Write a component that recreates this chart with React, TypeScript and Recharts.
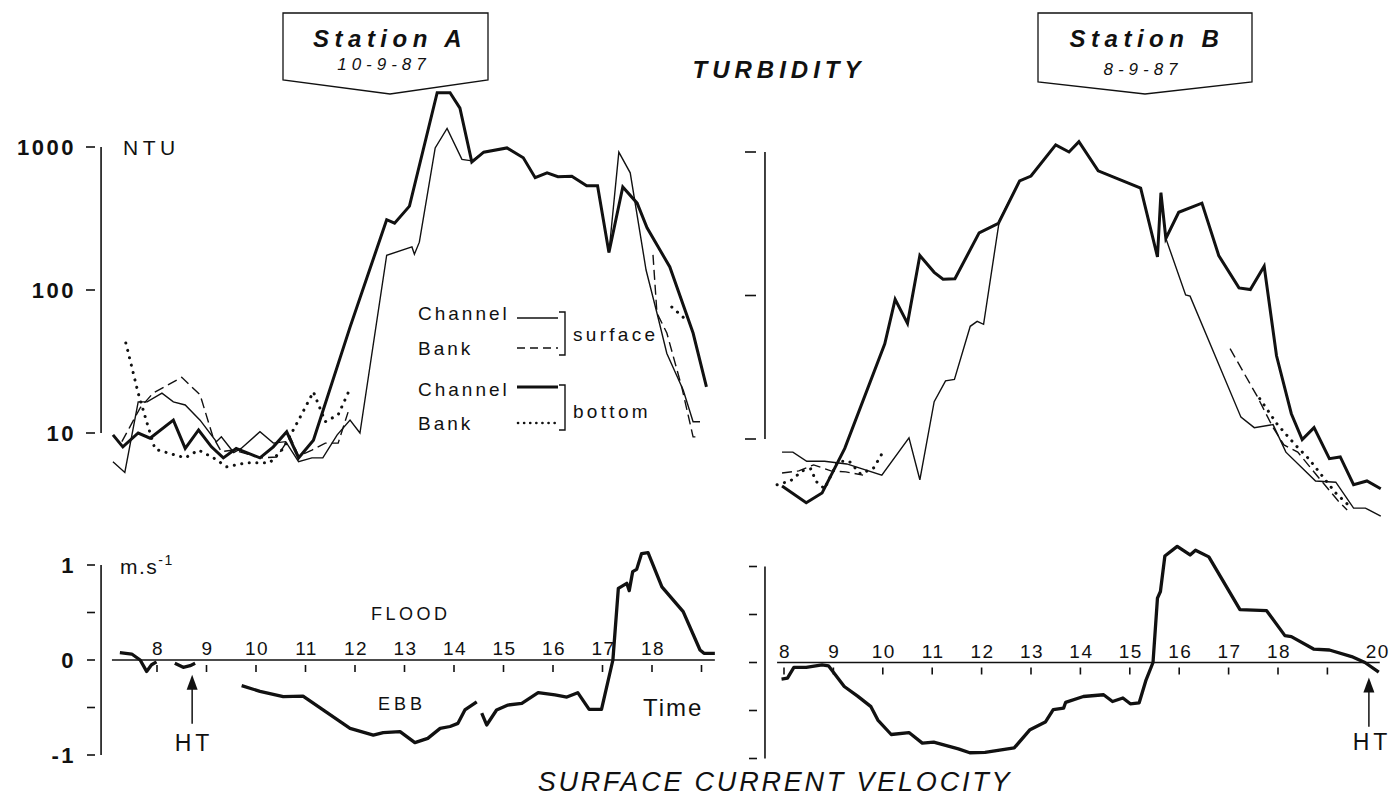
import React from "react";
import { LineChart, Line, XAxis, YAxis, ReferenceLine, ReferenceDot } from "recharts";

const W = 1393;
const H = 801;
const INK = "#111";
const FONT = '"Liberation Sans", Arial, Helvetica, sans-serif';

// ---------------- Station A turbidity (NTU), time in hours ----------------
const A_SURF_CH_T = [7.11, 7.35, 7.62, 7.8, 8.1, 8.33, 8.57, 8.87, 9.2, 9.3, 9.55, 9.7, 10.08, 10.35, 10.6, 10.86, 11.13, 11.35, 11.64, 11.9, 12.1, 12.64, 13.15, 13.2, 13.3, 13.62, 13.86, 14.16, 14.36, 14.6, 15.07, 15.4, 15.64, 15.88, 16.1, 16.38, 16.68, 16.9, 17.13, 17.33, 17.56, 17.88, 18.1, 18.3, 18.63, 18.83, 18.97];
const A_SURF_CH_V = [6.3, 5.3, 16.5, 16.5, 19, 16.5, 15.7, 12.3, 8.7, 9.4, 7.3, 7.8, 10.2, 8.5, 8.7, 6.3, 6.7, 6.7, 9.7, 12.3, 10, 175, 200, 178, 216, 985, 1350, 820, 800, 920, 985, 840, 610, 660, 620, 625, 535, 535, 183, 920, 660, 138, 69, 36, 20, 12, 12];

const A_BOT_CH_T = [7.11, 7.31, 7.62, 7.86, 8.33, 8.57, 8.84, 9.1, 9.34, 9.6, 10.08, 10.35, 10.62, 10.86, 11.16, 11.9, 12.64, 12.8, 13.1, 13.66, 13.92, 14.12, 14.36, 14.6, 15.07, 15.4, 15.64, 15.88, 16.1, 16.38, 16.68, 16.9, 17.13, 17.41, 17.7, 17.9, 18.36, 18.83, 19.1];
const A_BOT_CH_V = [9.7, 8.0, 10.0, 9.2, 12.3, 7.8, 10.5, 8.0, 6.7, 7.8, 6.7, 8.0, 10.2, 6.7, 8.9, 55, 310, 293, 386, 2400, 2400, 1870, 785, 920, 985, 840, 610, 660, 620, 625, 535, 535, 183, 525, 405, 272, 145, 50, 21];

const A_SURF_BK_T = [7.29, 7.45, 7.66, 7.92, 8.5, 8.87, 9.13, 9.3, 9.55, 10.08, 10.42, 10.69, 10.86, 11.13, 11.4, 11.66, 11.86, 11.95, 18.02, 18.1, 18.3, 18.6, 18.83, 18.97];
const A_SURF_BK_V = [8.7, 11, 15, 19, 24.5, 18.5, 9.4, 7.4, 7.6, 6.7, 6.8, 9.4, 6.9, 7.6, 8.5, 8.5, 14, null, 176, 69, 50, 21, 9.4, 9.4];

const A_BOT_BK_T = [7.37, 7.49, 7.62, 7.8, 7.96, 8.57, 8.84, 9.14, 9.41, 9.82, 10.28, 10.55, 10.86, 11.16, 11.4, 11.66, 11.87, 12.0, 18.4, 18.73];
const A_BOT_BK_V = [42.6, 29, 19, 11.7, 7.7, 6.7, 7.6, 6.7, 5.8, 6.2, 6.2, 7.8, 12.3, 19.4, 12, 13.4, 19.4, null, 76, 60];

// ---------------- Station B turbidity (NTU) ----------------
const B_SURF_CH_T = [7.96, 8.18, 8.46, 8.82, 9.27, 9.98, 10.53, 10.75, 11.04, 11.27, 11.45, 11.77, 11.91, 12.04, 12.36, 12.77, 13.0, 13.5, 13.77, 13.97, 14.36, 15.22, 15.56, 15.63, 15.73, 16.13, 16.22, 17.25, 17.52, 17.9, 18.16, 18.76, 19.17, 19.53, 19.77, 20.08];
const B_SURF_CH_V = [8.1, 8.1, 7.0, 7.0, 6.7, 5.6, 10.2, 5.2, 18.2, 25.4, 26, 61, 66, 63, 335, 630, 680, 1120, 1000, 1180, 740, 560, 186, 520, 250, 101, 99, 14.2, 12.0, 12.6, 8.1, 5.1, 5.0, 3.3, 3.3, 2.9];

const B_BOT_CH_T = [7.96, 8.45, 8.77, 9.23, 10.04, 10.25, 10.5, 10.75, 11.04, 11.22, 11.46, 11.95, 12.34, 12.77, 13.0, 13.5, 13.77, 13.97, 14.36, 15.22, 15.56, 15.63, 15.73, 15.99, 16.46, 16.8, 17.21, 17.44, 17.72, 17.97, 18.27, 18.49, 18.73, 19.04, 19.26, 19.53, 19.8, 20.08];
const B_BOT_CH_V = [4.7, 3.6, 4.2, 8.6, 46, 94, 64, 190, 145, 130, 131, 273, 318, 630, 680, 1120, 1000, 1180, 740, 560, 186, 520, 250, 380, 440, 190, 113, 110, 160, 38, 15, 9.9, 12, 7.3, 7.5, 4.8, 5.1, 4.5];

const B_SURF_BK_T = [7.96, 8.3, 8.6, 8.95, 9.25, 9.6, 9.7, 17.03, 17.58, 17.9, 18.12, 18.4, 18.8, 19.22, 19.4];
const B_SURF_BK_V = [5.8, 6.0, 6.6, 6.0, 5.9, 5.6, null, 42.6, 19.8, 12, 9.1, 8.1, 5.5, 3.7, 3.2];

const B_BOT_BK_T = [7.86, 8.13, 8.37, 8.55, 8.64, 8.82, 9.09, 9.32, 9.55, 9.82, 10.0, 10.1, 17.63, 17.99, 18.35, 18.62, 18.9, 19.17, 19.49];
const B_BOT_BK_V = [4.8, 5.1, 6.0, 6.2, 5.1, 4.5, 7.0, 7.0, 5.7, 6.3, 8.1, null, 19.1, 12.6, 9.1, 7.3, 5.5, 4.2, 3.3];

// ---------------- Surface current velocity (m/s) ----------------
const A_VEL_T = [7.25, 7.49, 7.66, 7.79, 7.89, 7.99, 8.15, 8.36, 8.53, 8.67, 8.77, 9.2, 9.71, 10.08, 10.55, 10.95, 11.9, 12.37, 12.57, 12.91, 13.21, 13.47, 13.72, 13.92, 14.08, 14.22, 14.46, 14.51, 14.56, 14.66, 14.86, 15.09, 15.37, 15.7, 16.04, 16.28, 16.5, 16.73, 16.98, 17.21, 17.32, 17.49, 17.54, 17.61, 17.69, 17.79, 17.92, 18.2, 18.63, 18.97, 19.05, 19.27];
const A_VEL_V = [0.077, 0.063, 0, -0.12, -0.05, -0.02, null, -0.035, -0.077, -0.06, -0.035, null, -0.27, -0.33, -0.386, -0.38, -0.72, -0.79, -0.765, -0.754, -0.87, -0.825, -0.72, -0.7, -0.667, -0.526, -0.44, null, -0.56, -0.684, -0.526, -0.474, -0.456, -0.344, -0.368, -0.39, -0.344, -0.52, -0.52, 0, 0.754, 0.807, 0.73, 0.93, 0.954, 1.12, 1.13, 0.77, 0.51, 0.105, 0.07, 0.07];

const B_VEL_T = [7.95, 8.07, 8.2, 8.45, 8.77, 8.9, 9.22, 9.49, 9.76, 9.9, 10.17, 10.53, 10.8, 11.03, 11.53, 11.76, 12.07, 12.66, 12.98, 13.29, 13.45, 13.66, 13.7, 14.06, 14.47, 14.65, 14.86, 15.01, 15.19, 15.33, 15.47, 15.56, 15.62, 15.71, 15.96, 16.22, 16.33, 16.6, 17.23, 17.77, 18.14, 18.27, 18.72, 19.04, 19.49, 19.76, 20.04];
const B_VEL_V = [-0.173, -0.163, -0.05, -0.05, -0.024, -0.035, -0.25, -0.35, -0.46, -0.6, -0.75, -0.73, -0.84, -0.83, -0.9, -0.94, -0.936, -0.89, -0.7, -0.62, -0.49, -0.475, -0.416, -0.354, -0.336, -0.406, -0.37, -0.43, -0.42, -0.18, 0, 0.67, 0.74, 1.11, 1.21, 1.12, 1.17, 1.1, 0.55, 0.54, 0.28, 0.27, 0.14, 0.13, 0.062, 0, -0.1];

// ---------------- ticks & labels ----------------
const TURB_TICKS = [10, 100, 1000];
const TURB_LABELS = ["10", "100", "1000"];
const VEL_TICKS = [-1, -0.5, 0, 0.5, 1];
const VEL_LABELS = ["-1", "", "0", "", "1"];
const A_TIME_TICKS = [8, 9, 10, 11, 12, 13, 14, 15, 16, 17, 18, 19];
const A_TIME_LABELS = ["8", "9", "10", "11", "12", "13", "14", "15", "16", "17", "18", ""];
const A_TIME_MARKS = [true, true, true, true, true, true, true, true, true, true, true, true];
const B_TIME_TICKS = [8, 9, 10, 11, 12, 13, 14, 15, 16, 17, 18, 19, 20];
const B_TIME_LABELS = ["8", "9", "10", "11", "12", "13", "14", "15", "16", "17", "18", "", "20"];
const B_TIME_MARKS = [true, true, true, true, true, true, true, true, true, true, true, true, false];
const A_HT = 8.71;
const B_HT = 19.84;

// ---------------- layout ----------------
const A_X8 = 157, A_HOUR = 49.5, A_XDOM: [number, number] = [6.87, 19.4];
const B_X8 = 784, B_HOUR = 49.4, B_XDOM: [number, number] = [7.615, 20.3];
const YW = 60;
const XH = 10;

const zip = (ts: number[], vs: (number | null)[]) => ts.map((t, i) => ({ t, v: vs[i] }));

function xRange(x8: number, hour: number, dom: [number, number]) {
  return [x8 + (dom[0] - 8) * hour, x8 + (dom[1] - 8) * hour];
}
function logRange(y10: number, dec: number, dom: [number, number]) {
  return [y10 - (Math.log10(dom[1]) - 1) * dec, y10 - (Math.log10(dom[0]) - 1) * dec];
}
function linRange(y0: number, unit: number, dom: [number, number]) {
  return [y0 - dom[1] * unit, y0 - dom[0] * unit];
}
function margins(xr: number[], yr: number[], xh: number) {
  return { left: xr[0] - YW, right: W - xr[1], top: yr[0], bottom: H - yr[1] - xh };
}

const STYLE_THIN = { stroke: INK, strokeWidth: 1.4 };
const STYLE_THICK = { stroke: INK, strokeWidth: 3 };
const STYLE_DASH = { stroke: INK, strokeWidth: 1.4, strokeDasharray: "10 5" };
const STYLE_DOT = { stroke: INK, strokeWidth: 3, strokeDasharray: "0.1 7.5", strokeLinecap: "round" as const };

function makeYTick(ticks: number[], labels: string[], dashX1: number, dashX2: number, labelX: number, showLabels: boolean) {
  return (props: any) => {
    const { y, payload } = props;
    const i = ticks.indexOf(payload.value);
    const lab = i >= 0 ? labels[i] : "";
    return (
      <g>
        <line x1={dashX1} x2={dashX2} y1={y} y2={y} stroke={INK} strokeWidth={1.6} />
        {showLabels && lab !== "" && (
          <text x={labelX} y={y} dy="0.36em" textAnchor="end" fontFamily={FONT} fontSize={22} fontWeight="bold" letterSpacing={2.5} fill={INK}>
            {lab}
          </text>
        )}
      </g>
    );
  };
}

function makeXTick(ticks: number[], labels: string[], marks: boolean[], zeroY: number) {
  return (props: any) => {
    const { x, payload } = props;
    const i = ticks.indexOf(payload.value);
    return (
      <g>
        {i >= 0 && marks[i] && <line x1={x} x2={x} y1={zeroY + 5} y2={zeroY + 12} stroke={INK} strokeWidth={1.6} />}
        {i >= 0 && labels[i] !== "" && (
          <text x={x + 1} y={zeroY - 5} textAnchor="middle" fontFamily={FONT} fontSize={19} letterSpacing={1.5} fill={INK}>
            {labels[i]}
          </text>
        )}
      </g>
    );
  };
}

const arrowShape = (p: any) => (
  <polygon points={`${p.cx},${p.cy} ${p.cx - 5.5},${p.cy + 15} ${p.cx + 5.5},${p.cy + 15}`} fill={INK} />
);

const layer: React.CSSProperties = { position: "absolute", left: 0, top: 0 };

function TurbidityPanel(props: {
  xdom: [number, number]; x8: number; hour: number; y10: number; dec: number; ydom: [number, number];
  dashX1: number; dashX2: number; showLabels: boolean;
  series: { data: { t: number; v: number | null }[]; style: any; name: string }[];
}) {
  const xr = xRange(props.x8, props.hour, props.xdom);
  const yr = logRange(props.y10, props.dec, props.ydom);
  const m = margins(xr, yr, 0);
  return (
    <div style={layer}>
      <LineChart width={W} height={H} margin={m}>
        <XAxis type="number" dataKey="t" domain={props.xdom} allowDataOverflow hide />
        <YAxis
          type="number"
          scale="log"
          domain={props.ydom}
          allowDataOverflow
          ticks={TURB_TICKS}
          interval={0}
          width={YW}
          axisLine={false}
          tickLine={false}
          tick={makeYTick(TURB_TICKS, TURB_LABELS, props.dashX1, props.dashX2, 76, props.showLabels)}
        />
        <ReferenceLine
          segment={[{ x: props.xdom[0], y: 10 }, { x: props.xdom[0], y: 1000 }]}
          stroke={INK}
          strokeWidth={1.6}
          ifOverflow="visible"
        />
        {props.series.map((s) => (
          <Line
            key={s.name}
            name={s.name}
            data={s.data}
            dataKey="v"
            type="linear"
            dot={false}
            activeDot={false}
            connectNulls={false}
            isAnimationActive={false}
            {...s.style}
          />
        ))}
      </LineChart>
    </div>
  );
}

function VelocityPanel(props: {
  xdom: [number, number]; x8: number; hour: number; y0: number; unit: number; ydom: [number, number];
  dashX1: number; dashX2: number; showLabels: boolean; data: { t: number; v: number | null }[];
  ticks: number[]; labels: string[]; marks: boolean[]; zeroFrom: number; zeroTo: number; ht: number;
}) {
  const xr = xRange(props.x8, props.hour, props.xdom);
  const yr = linRange(props.y0, props.unit, props.ydom);
  const m = margins(xr, yr, XH);
  return (
    <div style={layer}>
      <LineChart width={W} height={H} margin={m}>
        <XAxis
          type="number"
          dataKey="t"
          domain={props.xdom}
          allowDataOverflow
          ticks={props.ticks}
          interval={0}
          height={XH}
          axisLine={false}
          tickLine={false}
          tick={makeXTick(props.ticks, props.labels, props.marks, props.y0)}
        />
        <YAxis
          type="number"
          domain={props.ydom}
          allowDataOverflow
          ticks={VEL_TICKS}
          interval={0}
          width={YW}
          axisLine={false}
          tickLine={false}
          tick={makeYTick(VEL_TICKS, VEL_LABELS, props.dashX1, props.dashX2, 76, props.showLabels)}
        />
        <ReferenceLine
          segment={[{ x: props.xdom[0], y: -1 }, { x: props.xdom[0], y: 1 }]}
          stroke={INK}
          strokeWidth={1.6}
          ifOverflow="visible"
        />
        <ReferenceLine
          segment={[{ x: props.zeroFrom, y: 0 }, { x: props.zeroTo, y: 0 }]}
          stroke={INK}
          strokeWidth={1.6}
          ifOverflow="visible"
        />
        <ReferenceLine
          segment={[{ x: props.ht, y: -0.67 }, { x: props.ht, y: -0.25 }]}
          stroke={INK}
          strokeWidth={1.5}
          ifOverflow="visible"
        />
        <ReferenceDot x={props.ht} y={-0.155} r={0} ifOverflow="visible" shape={arrowShape} />
        <Line
          data={props.data}
          dataKey="v"
          type="linear"
          dot={false}
          activeDot={false}
          connectNulls={false}
          isAnimationActive={false}
          stroke={INK}
          strokeWidth={3.3}
          strokeLinejoin="round"
        />
      </LineChart>
    </div>
  );
}

const txt = (extra: any) => ({ fontFamily: FONT, fill: INK, ...extra });

function Overlay() {
  return (
    <svg width={W} height={H} style={{ ...layer, pointerEvents: "none" }}>
      {/* station boxes */}
      <polygon points="283,13 488,13 488,80 390,94 283,80" fill="#fff" stroke={INK} strokeWidth={1.3} />
      <polygon points="1038,13 1252,13 1252,82 1145,94 1038,82" fill="#fff" stroke={INK} strokeWidth={1.3} />
      <text x={390} y={47} textAnchor="middle" {...txt({ fontSize: 24, fontStyle: "italic", fontWeight: "bold", letterSpacing: 5.5 })}>Station A</text>
      <text x={384} y={70} textAnchor="middle" {...txt({ fontSize: 17, fontStyle: "italic", letterSpacing: 5 })}>10-9-87</text>
      <text x={1147} y={47} textAnchor="middle" {...txt({ fontSize: 24, fontStyle: "italic", fontWeight: "bold", letterSpacing: 5.5 })}>Station B</text>
      <text x={1143} y={75} textAnchor="middle" {...txt({ fontSize: 17, fontStyle: "italic", letterSpacing: 5 })}>8-9-87</text>
      <text x={779} y={78} textAnchor="middle" {...txt({ fontSize: 24, fontStyle: "italic", fontWeight: "bold", letterSpacing: 5 })}>TURBIDITY</text>
      <text x={775} y={791} textAnchor="middle" {...txt({ fontSize: 27, fontStyle: "italic", letterSpacing: 2.8 })}>SURFACE CURRENT VELOCITY</text>

      {/* unit labels */}
      <text x={123} y={155} {...txt({ fontSize: 21, letterSpacing: 4.5 })}>NTU</text>
      <text x={120} y={574} {...txt({ fontSize: 21, letterSpacing: 1.5 })}>
        m.s<tspan fontSize={14} dy={-9}>-1</tspan>
      </text>
      <text x={371} y={620} {...txt({ fontSize: 18, letterSpacing: 3.5 })}>FLOOD</text>
      <text x={378} y={710} {...txt({ fontSize: 18, letterSpacing: 4 })}>EBB</text>
      <text x={643} y={716} {...txt({ fontSize: 24, letterSpacing: 2 })}>Time</text>
      <text x={194} y={751} textAnchor="middle" {...txt({ fontSize: 23, letterSpacing: 4 })}>HT</text>
      <text x={1372} y={750} textAnchor="middle" {...txt({ fontSize: 23, letterSpacing: 4 })}>HT</text>

      {/* legend */}
      <text x={418} y={320} {...txt({ fontSize: 19, letterSpacing: 3 })}>Channel</text>
      <text x={418} y={355} {...txt({ fontSize: 19, letterSpacing: 3 })}>Bank</text>
      <text x={418} y={396} {...txt({ fontSize: 19, letterSpacing: 3 })}>Channel</text>
      <text x={418} y={430} {...txt({ fontSize: 19, letterSpacing: 3 })}>Bank</text>
      <line x1={517} x2={558} y1={318} y2={318} {...STYLE_THIN} />
      <line x1={517} x2={558} y1={348} y2={348} stroke={INK} strokeWidth={1.4} strokeDasharray="8 5" />
      <line x1={517} x2={558} y1={387} y2={387} {...STYLE_THICK} />
      <line x1={518} x2={558} y1={423} y2={423} stroke={INK} strokeWidth={2.6} strokeDasharray="0.1 6" strokeLinecap="round" />
      <path d="M559 312 H565 V355 H559" fill="none" stroke={INK} strokeWidth={1.4} />
      <path d="M559 385 H565 V430 H559" fill="none" stroke={INK} strokeWidth={1.4} />
      <text x={573} y={341} {...txt({ fontSize: 19, letterSpacing: 3.3 })}>surface</text>
      <text x={573} y={418} {...txt({ fontSize: 19, letterSpacing: 3.3 })}>bottom</text>
    </svg>
  );
}

export default function App() {
  const aSeries = [
    { name: "A surface channel", data: zip(A_SURF_CH_T, A_SURF_CH_V), style: STYLE_THIN },
    { name: "A surface bank", data: zip(A_SURF_BK_T, A_SURF_BK_V), style: STYLE_DASH },
    { name: "A bottom bank", data: zip(A_BOT_BK_T, A_BOT_BK_V), style: STYLE_DOT },
    { name: "A bottom channel", data: zip(A_BOT_CH_T, A_BOT_CH_V), style: STYLE_THICK },
  ];
  const bSeries = [
    { name: "B surface channel", data: zip(B_SURF_CH_T, B_SURF_CH_V), style: STYLE_THIN },
    { name: "B surface bank", data: zip(B_SURF_BK_T, B_SURF_BK_V), style: STYLE_DASH },
    { name: "B bottom bank", data: zip(B_BOT_BK_T, B_BOT_BK_V), style: STYLE_DOT },
    { name: "B bottom channel", data: zip(B_BOT_CH_T, B_BOT_CH_V), style: STYLE_THICK },
  ];
  return (
    <div style={{ position: "absolute", left: 0, top: 0, width: W, height: H, background: "#fff", overflow: "hidden" }}>
      <TurbidityPanel xdom={A_XDOM} x8={A_X8} hour={A_HOUR} y10={433} dec={143} ydom={[3, 3000]} dashX1={86} dashX2={95} showLabels series={aSeries} />
      <TurbidityPanel xdom={B_XDOM} x8={B_X8} hour={B_HOUR} y10={439} dec={143.5} ydom={[2, 3000]} dashX1={745} dashX2={756} showLabels={false} series={bSeries} />
      <VelocityPanel
        xdom={A_XDOM} x8={A_X8} hour={A_HOUR} y0={660} unit={95} ydom={[-1.1, 1.3]}
        dashX1={87} dashX2={95} showLabels data={zip(A_VEL_T, A_VEL_V)}
        ticks={A_TIME_TICKS} labels={A_TIME_LABELS} marks={A_TIME_MARKS} zeroFrom={7.09} zeroTo={19.27} ht={A_HT}
      />
      <VelocityPanel
        xdom={B_XDOM} x8={B_X8} hour={B_HOUR} y0={662.5} unit={96} ydom={[-1.1, 1.3]}
        dashX1={749} dashX2={757} showLabels={false} data={zip(B_VEL_T, B_VEL_V)}
        ticks={B_TIME_TICKS} labels={B_TIME_LABELS} marks={B_TIME_MARKS} zeroFrom={7.86} zeroTo={20.06} ht={B_HT}
      />
      <Overlay />
    </div>
  );
}
